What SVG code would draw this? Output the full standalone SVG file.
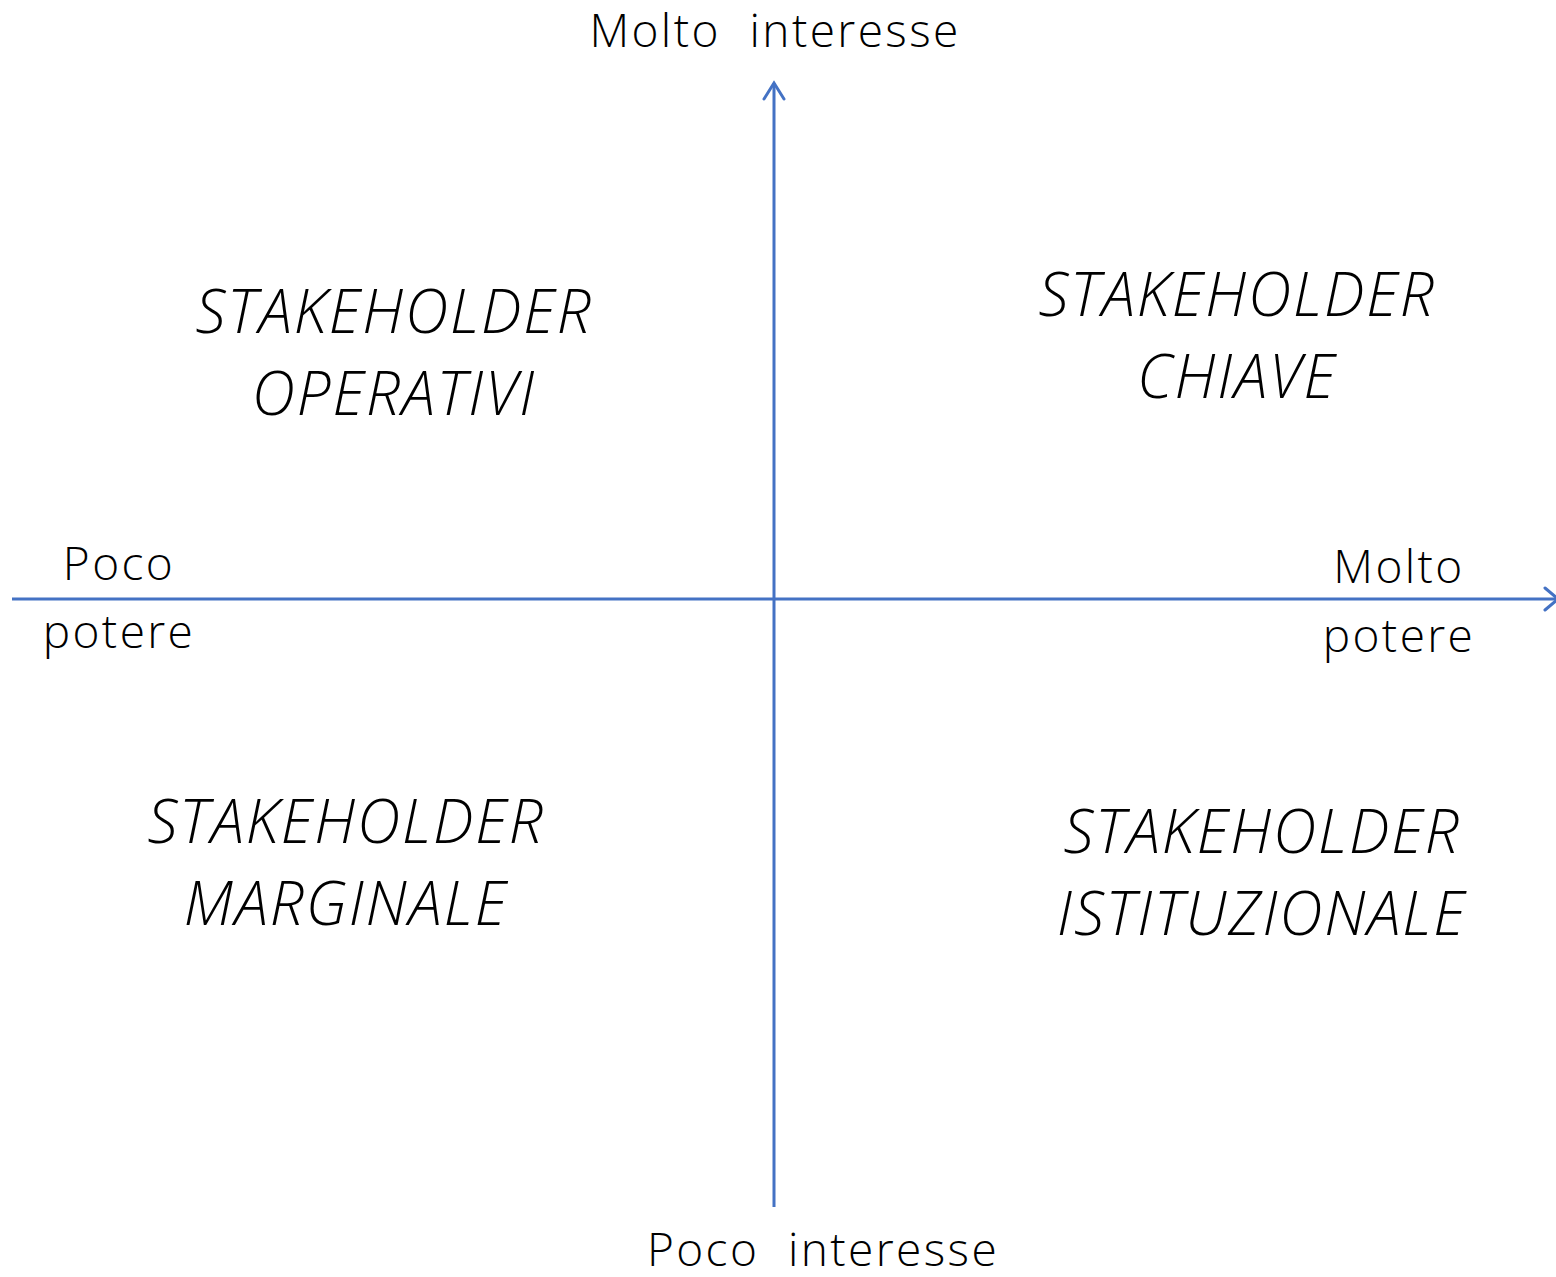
<svg xmlns="http://www.w3.org/2000/svg" width="1556" height="1277" viewBox="0 0 1556 1277">
  <style>
    .axis { stroke: #4472C4; stroke-width: 3; fill: none; }
    .head { stroke: #4472C4; stroke-width: 3; fill: none; stroke-linecap: round; stroke-linejoin: miter; }
    .label { font-family: "Open Sans", "Liberation Sans", sans-serif; font-weight: 300; font-size: 46px; letter-spacing: 2.4px; fill: #000; text-anchor: middle; white-space: pre; }
    .quad { font-family: "Open Sans", "Liberation Sans", sans-serif; font-weight: 300; font-style: italic; font-size: 60px; letter-spacing: 1.9px; fill: #000; text-anchor: middle; }
  </style>
  <rect width="1556" height="1277" fill="#ffffff"/>

  <!-- axes -->
  <g id="connectors">
    <line class="axis" x1="774" y1="1207" x2="774" y2="83"/>
    <polyline class="head" points="764,99 774,83 784,99"/>
    <line class="axis" x1="12" y1="599" x2="1556" y2="599"/>
    <polyline class="head" points="1545,588 1558,599 1545,610"/>
  </g>

  <!-- axis labels -->
  <g id="label-top"><text class="label" x="775" y="47">Molto  interesse</text></g>
  <g id="label-bottom"><text class="label" x="823" y="1266">Poco  interesse</text></g>
  <g id="label-left">
    <text class="label" x="119" y="580">Poco</text>
    <text class="label" x="119" y="648">potere</text>
  </g>
  <g id="label-right">
    <text class="label" x="1399" y="583">Molto</text>
    <text class="label" x="1399" y="652">potere</text>
  </g>

  <!-- quadrants -->
  <g id="q-operativi">
    <text class="quad" x="394" y="333">STAKEHOLDER</text>
    <text class="quad" x="394" y="415">OPERATIVI</text>
  </g>
  <g id="q-chiave">
    <text class="quad" x="1237" y="316">STAKEHOLDER</text>
    <text class="quad" x="1237" y="398">CHIAVE</text>
  </g>
  <g id="q-marginale">
    <text class="quad" x="346" y="843">STAKEHOLDER</text>
    <text class="quad" x="346" y="925">MARGINALE</text>
  </g>
  <g id="q-istituzionale">
    <text class="quad" x="1262" y="853">STAKEHOLDER</text>
    <text class="quad" x="1262" y="935">ISTITUZIONALE</text>
  </g>
</svg>
